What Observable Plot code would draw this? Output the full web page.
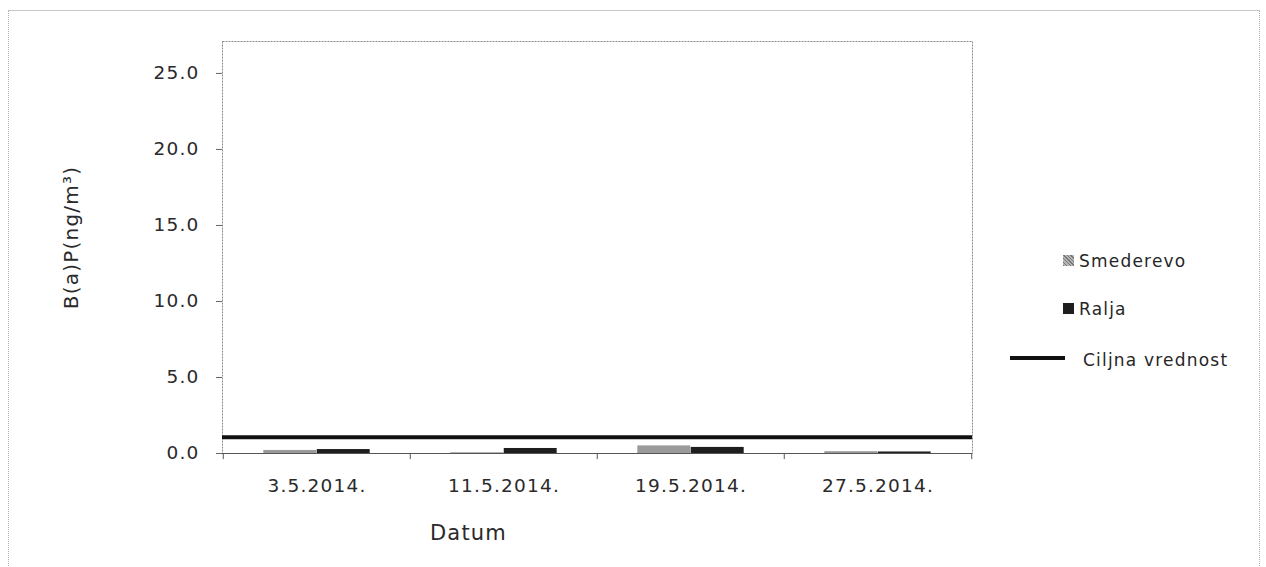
<!DOCTYPE html>
<html>
<head>
<meta charset="utf-8">
<script src="https://cdn.jsdelivr.net/npm/d3@7"></script>
<script src="https://cdn.jsdelivr.net/npm/@observablehq/plot@0.6"></script>
<style>
  html, body { margin: 0; padding: 0; background: #fff; overflow: hidden; }
  #wrap { position: relative; width: 1266px; height: 567px; font-family: "DejaVu Sans", sans-serif; }
  #outer { position: absolute; left: 8px; top: 10px; width: 1250px; height: 600px; border: 1px dotted #b0b0b0; border-top: 1px solid #c8c8c8; }
  #chart { position: absolute; left: 0; top: 0; }
  .leg { position: absolute; font-size: 17px; line-height: 20px; color: #262626; letter-spacing: 1.2px; white-space: nowrap; }
  .sw { position: absolute; width: 11px; height: 11px; }
</style>
</head>
<body>
<div id="wrap">
  <div id="outer"></div>
  <div id="chart"></div>
  <div class="sw" style="left:1063px; top:255px; background: repeating-linear-gradient(45deg, #777 0 1px, #b5b5b5 1px 2.5px);"></div>
  <div class="leg" style="left:1079px; top:251px;">Smederevo</div>
  <div class="sw" style="left:1063px; top:303px; background:#1e1e1e;"></div>
  <div class="leg" style="left:1079px; top:299px;">Ralja</div>
  <div style="position:absolute; left:1010px; top:356px; width:55px; height:4px; background:#111;"></div>
  <div class="leg" style="left:1083px; top:350px;">Ciljna vrednost</div>
</div>
<script>
const dates = ["3.5.2014.", "11.5.2014.", "19.5.2014.", "27.5.2014."];
const smederevo = [0.20, 0.05, 0.50, 0.12];
const ralja = [0.26, 0.33, 0.40, 0.10];
const targetValue = 1.0;
const yTicks = [0, 5, 10, 15, 20, 25];
const yLabel = "B(a)P(ng/m³)";
const xLabel = "Datum";

const rowsS = dates.map((d, i) => ({date: d, value: smederevo[i]}));
const rowsR = dates.map((d, i) => ({date: d, value: ralja[i]}));

const W = 1266, H = 567;
const mL = 222, mR = 294, mT = 41, mB = 114;
const band = (W - mL - mR) / dates.length;
const barW = band * 0.285;
const sideGap = (band - 2 * barW) / 2;

const chart = Plot.plot({
  width: W,
  height: H,
  marginLeft: mL,
  marginRight: mR,
  marginTop: mT,
  marginBottom: mB,
  style: {fontFamily: "DejaVu Sans, sans-serif", fontSize: "18.5px", color: "#2a2a2a", background: "transparent"},
  x: {type: "band", domain: dates, padding: 0, label: null},
  y: {domain: [0, 27.1], label: null},
  marks: [
    Plot.frame({stroke: "#8a8a8a", strokeDasharray: "2,1"}),
    Plot.barY(rowsS, {x: "date", y: "value", fill: "#9a9a9a", insetLeft: sideGap, insetRight: sideGap + barW}),
    Plot.barY(rowsR, {x: "date", y: "value", fill: "#1e1e1e", insetLeft: sideGap + barW, insetRight: sideGap}),
    Plot.ruleY([0], {stroke: "#555", strokeWidth: 1}),
    Plot.ruleX(dates, {x: d => d, y1: 0, y2: -0.4, dx: -band / 2, stroke: "#555"}),
    Plot.ruleX(dates.slice(-1), {x: d => d, y1: 0, y2: -0.4, dx: band / 2, stroke: "#555"}),
    Plot.ruleY([targetValue], {stroke: "#111", strokeWidth: 4, dy: -1}),
    Plot.axisY({ticks: yTicks, tickFormat: d3.format(".1f"), tickSize: 6, tickPadding: 17, label: null, fontSize: 18.5, stroke: "#666"}),
    Plot.axisX({tickSize: 0, tickPadding: 25, label: null, fontSize: 18.5}),
    Plot.text([yLabel], {frameAnchor: "left", textAnchor: "middle", lineAnchor: "middle", rotate: -90, dx: -151, dy: -10, fontSize: 20, fill: "#2a2a2a"}),
    Plot.text([xLabel], {frameAnchor: "bottom", textAnchor: "middle", lineAnchor: "middle", dx: -129, dy: 80, fontSize: 21, fill: "#2a2a2a"})
  ]
});
chart.querySelectorAll("text").forEach(t => t.setAttribute("letter-spacing", "1.2"));
document.getElementById("chart").appendChild(chart);
</script>
</body>
</html>
